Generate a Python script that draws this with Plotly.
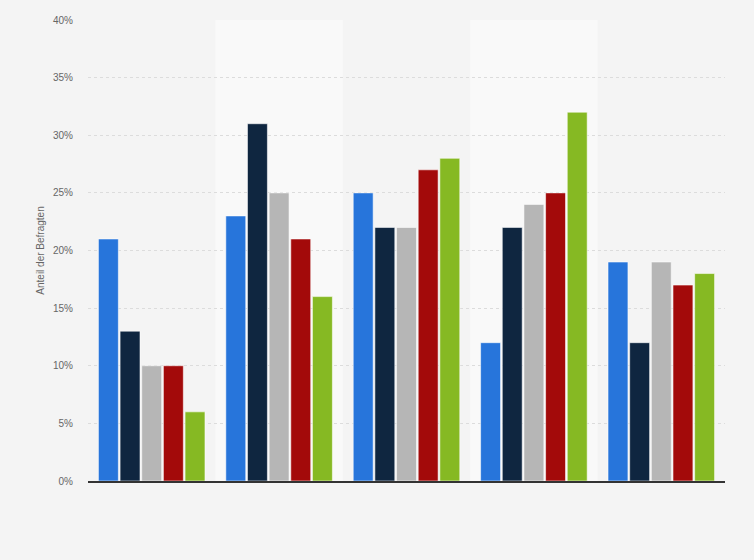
import plotly.graph_objects as go

# categories (x labels are not shown in the chart)
categories = ["Gruppe 1", "Gruppe 2", "Gruppe 3", "Gruppe 4", "Gruppe 5"]
series_names = ["Serie 1", "Serie 2", "Serie 3", "Serie 4", "Serie 5"]

serie_1 = [21, 23, 25, 12, 19]
serie_2 = [13, 31, 22, 22, 12]
serie_3 = [10, 25, 22, 24, 19]
serie_4 = [10, 21, 27, 25, 17]
serie_5 = [6, 16, 28, 32, 18]

y_ticks = [0, 5, 10, 15, 20, 25, 30, 35, 40]
y_tick_labels = [f"{t}%" for t in y_ticks]

colors = ["#2775db", "#0f2640", "#b6b6b6", "#a30a0a", "#86b923"]

fig = go.Figure()
for name, values, color in zip(series_names, [serie_1, serie_2, serie_3, serie_4, serie_5], colors):
    fig.add_trace(
        go.Bar(
            x=categories,
            y=values,
            name=name,
            marker=dict(color=color, line=dict(color="rgba(255,255,255,0.55)", width=1)),
        )
    )

# lighter bands behind every second category
for i in [1, 3]:
    fig.add_shape(
        type="rect",
        xref="x",
        yref="y",
        x0=i - 0.5,
        x1=i + 0.5,
        y0=0,
        y1=40,
        fillcolor="#f9f9f9",
        line_width=0,
        layer="below",
    )

fig.update_layout(
    width=754,
    height=560,
    margin=dict(l=88, r=29, t=20, b=79),
    paper_bgcolor="#f4f4f4",
    plot_bgcolor="#f4f4f4",
    showlegend=False,
    barmode="group",
    bargap=0.15,
    bargroupgap=0.08,
    font=dict(family="Arial, Liberation Sans, sans-serif", size=10, color="#666666"),
    xaxis=dict(
        showticklabels=False,
        showgrid=False,
        showline=True,
        linecolor="#333333",
        linewidth=1.5,
        ticks="",
        zeroline=False,
    ),
    yaxis=dict(
        range=[0, 40],
        tickvals=y_ticks,
        ticktext=y_tick_labels,
        showgrid=True,
        gridcolor="#dcdcdc",
        griddash="dot",
        gridwidth=1,
        zeroline=False,
        showline=False,
        ticks="",
        ticklabelstandoff=14,
        title=dict(text="Anteil der Befragten", standoff=6, font=dict(size=10, color="#666666")),
    ),
)

# remove the default page margin so the figure sits at the window's corner
fig.write_html(
    "out.html",
    config={"displayModeBar": False},
    post_script="document.body.style.margin='0';",
)
